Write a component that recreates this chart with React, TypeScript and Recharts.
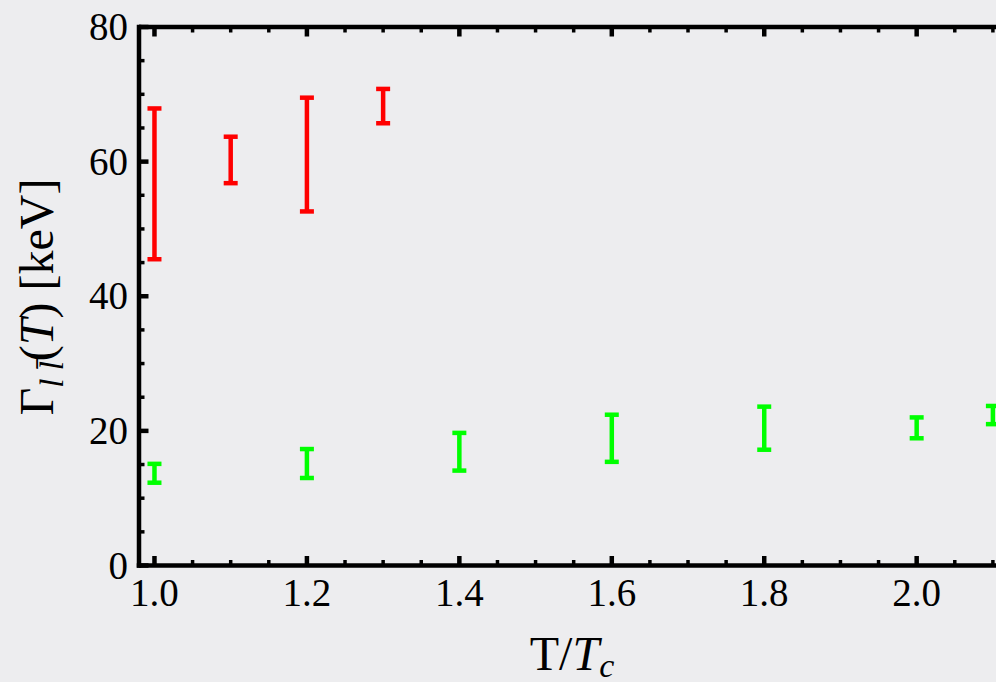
import { ScatterChart, Scatter, XAxis, YAxis, ErrorBar, ReferenceLine } from 'recharts';

// error bar ranges (keV)
const redT = [1.0, 1.1, 1.2, 1.3];
const redLow = [45.5, 56.8, 52.6, 65.7];
const redHigh = [67.9, 63.7, 69.5, 70.8];

const greenT = [1.0, 1.2, 1.4, 1.6, 1.8, 2.0, 2.1];
const greenLow = [12.3, 13.0, 14.1, 15.4, 17.2, 18.9, 21.0];
const greenHigh = [15.1, 17.3, 19.7, 22.4, 23.6, 22.0, 23.7];

const xMajor = [1.0, 1.2, 1.4, 1.6, 1.8, 2.0];
const yMajor = [0, 20, 40, 60, 80];

const W = 1051;
const H = 682;
const PLOT_LEFT = 139;
const PLOT_TOP = 27;
const PLOT_BOTTOM = 565.5;
const FONT = '"Liberation Serif", "Times New Roman", serif';

const toRows = (t: number[], lo: number[], hi: number[]) =>
  t.map((x, i) => ({ x, y: (lo[i] + hi[i]) / 2, err: (hi[i] - lo[i]) / 2 }));

const redData = toRows(redT, redLow, redHigh);
const greenData = toRows(greenT, greenLow, greenHigh);

// minor ticks: 4 per 0.2 on x, 4 per 20 on y
const xTicks = xMajor.flatMap((v) =>
  [0, 0.05, 0.1, 0.15].map((d) => Math.round((v + d) * 100) / 100)
);
const yTicks = yMajor.flatMap((v, i) =>
  i === yMajor.length - 1 ? [v] : [0, 5, 10, 15].map((d) => v + d)
);

const isMajorX = (v: number) => xMajor.some((m) => Math.abs(m - v) < 1e-6);
const isMajorY = (v: number) => yMajor.includes(v);

function XTick(props: any) {
  const { x, payload } = props;
  const v = payload.value;
  const major = isMajorX(v);
  const len = major ? 9.5 : 5.5;
  const sw = major ? 4.5 : 3.5;
  return (
    <g>
      <line x1={x} x2={x} y1={PLOT_BOTTOM} y2={PLOT_BOTTOM - len} stroke="#000" strokeWidth={sw} />
      <line x1={x} x2={x} y1={PLOT_TOP} y2={PLOT_TOP + len} stroke="#000" strokeWidth={sw} />
      {major && (
        <text x={x} y={606} textAnchor="middle" fontFamily={FONT} fontSize={39} fill="#000">
          {v.toFixed(1)}
        </text>
      )}
    </g>
  );
}

function YTick(props: any) {
  const { y, payload } = props;
  const v = payload.value;
  const major = isMajorY(v);
  const len = major ? 9.5 : 5.5;
  const sw = major ? 4.5 : 3.5;
  return (
    <g>
      <line x1={PLOT_LEFT} x2={PLOT_LEFT + len} y1={y} y2={y} stroke="#000" strokeWidth={sw} />
      {major && (
        <text x={128} y={y + 13} textAnchor="end" fontFamily={FONT} fontSize={39} fill="#000">
          {v}
        </text>
      )}
    </g>
  );
}

const Empty = () => <g />;

function XTitle() {
  return (
    <text x={572} y={670} textAnchor="middle" fontFamily={FONT} fontSize={48} fill="#000">
      T/<tspan fontStyle="italic">T</tspan>
      <tspan fontStyle="italic" fontSize={34} dy={7}>c</tspan>
    </text>
  );
}

function YTitle() {
  const cx = 53;
  const cy = 297;
  return (
    <text
      x={cx}
      y={cy}
      transform={`rotate(-90, ${cx}, ${cy})`}
      textAnchor="middle"
      fontFamily={FONT}
      fontSize={48}
      fill="#000"
    >
      Γ
      <tspan fontStyle="italic" fontSize={33} dy={10}>l l&#772;</tspan>
      <tspan dy={-10}>(</tspan>
      <tspan fontStyle="italic">T</tspan>
      <tspan>) [keV]</tspan>
    </text>
  );
}

export default function App() {
  return (
    <div
      style={{
        position: 'absolute',
        left: 0,
        top: 0,
        width: 996,
        height: 682,
        overflow: 'hidden',
        background: '#ededef',
      }}
    >
      <ScatterChart width={W} height={H} margin={{ top: PLOT_TOP, right: 20, bottom: 36.5, left: 39 }}>
        <XAxis
          type="number"
          dataKey="x"
          domain={[0.9797, 2.15]}
          allowDataOverflow
          ticks={xTicks}
          interval={0}
          height={80}
          tickSize={0}
          tick={<XTick />}
          axisLine={{ stroke: '#000', strokeWidth: 4.5, strokeLinecap: 'square' }}
          label={{ content: () => <XTitle /> }}
        />
        <YAxis
          type="number"
          dataKey="y"
          domain={[0, 80]}
          allowDataOverflow
          ticks={yTicks}
          interval={0}
          width={100}
          tickSize={0}
          tick={<YTick />}
          axisLine={{ stroke: '#000', strokeWidth: 4.5, strokeLinecap: 'square' }}
          label={{ content: () => <YTitle /> }}
        />
        <ReferenceLine y={80} stroke="#000" strokeWidth={4.5} />
        <Scatter data={redData} fill="#ff0000" shape={Empty} isAnimationActive={false}>
          <ErrorBar dataKey="err" direction="y" width={7} strokeWidth={4.5} stroke="#ff0000" isAnimationActive={false} />
        </Scatter>
        <Scatter data={greenData} fill="#00ff00" shape={Empty} isAnimationActive={false}>
          <ErrorBar dataKey="err" direction="y" width={7} strokeWidth={4.5} stroke="#00ff00" isAnimationActive={false} />
        </Scatter>
      </ScatterChart>
    </div>
  );
}
